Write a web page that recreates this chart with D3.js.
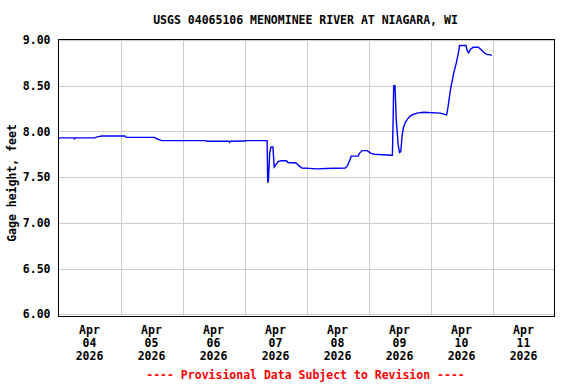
<!DOCTYPE html>
<html>
<head>
<meta charset="utf-8">
<script src="https://cdn.jsdelivr.net/npm/d3@7"></script>
<style>
  body { margin: 0; background: #fff; }
  svg text { font-family: "DejaVu Sans Mono", monospace; font-weight: bold; }
</style>
</head>
<body>
<div id="chart"></div>
<script>
// chart data
const title = "USGS 04065106 MENOMINEE RIVER AT NIAGARA, WI";
const yLabel = "Gage height, feet";
const footer = "---- Provisional Data Subject to Revision ----";

const yTicks = [6.0, 6.5, 7.0, 7.5, 8.0, 8.5, 9.0];
const dayTicks = ["2026-04-04", "2026-04-05", "2026-04-06", "2026-04-07",
                  "2026-04-08", "2026-04-09", "2026-04-10", "2026-04-11"];

const times = [
  "2026-04-04T00:00", "2026-04-04T00:30", "2026-04-04T06:00", "2026-04-04T06:15", "2026-04-04T06:30",
  "2026-04-04T14:00", "2026-04-04T15:00", "2026-04-04T16:45", "2026-04-05T01:45", "2026-04-05T02:15",
  "2026-04-05T13:15", "2026-04-05T14:00", "2026-04-05T16:00", "2026-04-06T08:45", "2026-04-06T09:30",
  "2026-04-06T18:00", "2026-04-06T18:15", "2026-04-06T18:30", "2026-04-07T00:15", "2026-04-07T00:30",
  "2026-04-07T08:45", "2026-04-07T09:00", "2026-04-07T09:15", "2026-04-07T09:45", "2026-04-07T10:15",
  "2026-04-07T11:00", "2026-04-07T11:30", "2026-04-07T12:15", "2026-04-07T13:00", "2026-04-07T14:15",
  "2026-04-07T16:15", "2026-04-07T16:45", "2026-04-07T20:00", "2026-04-07T21:15", "2026-04-07T22:15",
  "2026-04-08T04:00", "2026-04-08T07:30", "2026-04-08T15:00", "2026-04-08T15:45", "2026-04-08T17:00",
  "2026-04-08T17:15", "2026-04-08T20:00", "2026-04-08T20:30", "2026-04-08T21:30", "2026-04-08T23:30",
  "2026-04-09T01:00", "2026-04-09T02:15", "2026-04-09T09:00", "2026-04-09T09:15", "2026-04-09T09:30",
  "2026-04-09T09:45", "2026-04-09T10:15", "2026-04-09T10:45", "2026-04-09T11:30", "2026-04-09T12:00",
  "2026-04-09T12:30", "2026-04-09T13:00", "2026-04-09T13:30", "2026-04-09T14:15", "2026-04-09T15:30",
  "2026-04-09T16:45", "2026-04-09T18:45", "2026-04-09T21:15", "2026-04-10T03:45", "2026-04-10T06:15",
  "2026-04-10T06:45", "2026-04-10T07:45", "2026-04-10T09:00", "2026-04-10T10:00", "2026-04-10T11:00",
  "2026-04-10T11:15", "2026-04-10T13:45", "2026-04-10T14:15", "2026-04-10T14:45", "2026-04-10T15:30",
  "2026-04-10T16:30", "2026-04-10T18:30", "2026-04-10T19:45", "2026-04-10T20:45", "2026-04-10T22:00",
  "2026-04-10T23:00", "2026-04-10T23:45"
];
const levels = [
  7.92, 7.93, 7.93, 7.92, 7.93,
  7.93, 7.94, 7.95, 7.95, 7.935,
  7.935, 7.92, 7.90, 7.90, 7.893,
  7.893, 7.88, 7.893, 7.895, 7.90,
  7.90, 7.44, 7.46, 7.76, 7.83,
  7.83, 7.61, 7.64, 7.67, 7.68,
  7.68, 7.66, 7.655, 7.62, 7.60,
  7.59, 7.595, 7.60, 7.62, 7.70,
  7.73, 7.73, 7.76, 7.79, 7.79,
  7.76, 7.75, 7.74, 7.74, 8.08,
  8.50, 8.50, 8.12, 7.85, 7.77,
  7.78, 7.95, 8.04, 8.10, 8.15,
  8.18, 8.20, 8.21, 8.20, 8.18,
  8.26, 8.46, 8.64, 8.75, 8.89,
  8.94, 8.94, 8.88, 8.86, 8.90,
  8.92, 8.92, 8.89, 8.86, 8.84,
  8.84, 8.83
];

const W = 576, H = 384;
const plotL = 58.5, plotR = 554.5, plotT = 40, plotB = 314.3, frameB = 316;

const svg = d3.select("#chart").append("svg")
  .attr("width", W).attr("height", H)
  .attr("viewBox", `0 0 ${W} ${H}`);

const parseTime = d3.timeParse("%Y-%m-%dT%H:%M");
const parseDay = d3.timeParse("%Y-%m-%d");
const data = times.map((t, i) => ({ t: parseTime(t), v: levels[i] }));
const days = dayTicks.map(parseDay);

const x = d3.scaleTime()
  .domain([parseDay("2026-04-04"), parseDay("2026-04-12")])
  .range([plotL, plotR]);
const y = d3.scaleLinear().domain([6, 9]).range([plotB, plotT]);

// gridlines
svg.append("g").attr("class", "grid")
  .attr("transform", `translate(${plotL},0)`)
  .call(d3.axisLeft(y).tickValues(yTicks).tickSize(-(plotR - plotL)).tickFormat(""))
  .call(g => g.select(".domain").remove())
  .call(g => g.selectAll("line").attr("stroke", "#cccccc").attr("shape-rendering", "crispEdges"));

svg.append("g").attr("class", "grid")
  .attr("transform", `translate(0,${plotT})`)
  .call(d3.axisBottom(x).tickValues(days.slice(1)).tickSize(frameB - plotT).tickFormat(""))
  .call(g => g.select(".domain").remove())
  .call(g => g.selectAll("line").attr("stroke", "#cccccc").attr("shape-rendering", "crispEdges"));

// plot frame
svg.append("rect")
  .attr("x", plotL).attr("y", plotT - 0.5)
  .attr("width", plotR - plotL).attr("height", frameB - plotT + 0.5)
  .attr("fill", "none").attr("stroke", "#000").attr("stroke-width", 1)
  .attr("shape-rendering", "crispEdges");

// gage height line
const line = d3.line().x(d => x(d.t)).y(d => y(d.v));
svg.append("path").datum(data)
  .attr("d", line)
  .attr("fill", "none")
  .attr("stroke", "#0000ff")
  .attr("stroke-width", 1.4);

// y axis labels
svg.append("g")
  .attr("transform", `translate(${plotL},0)`)
  .call(d3.axisLeft(y).tickValues(yTicks).tickSize(0).tickPadding(8).tickFormat(d3.format(".2f")))
  .call(g => g.select(".domain").remove())
  .call(g => g.selectAll("text")
    .attr("font-family", "DejaVu Sans Mono, monospace")
    .attr("font-weight", "bold")
    .attr("font-size", "11.5px")
    .attr("fill", "#000"));

// x axis labels, three lines at noon of each day
const fmtMon = d3.timeFormat("%b"), fmtDay = d3.timeFormat("%d"), fmtYear = d3.timeFormat("%Y");
const noon = d => x(d3.timeHour.offset(d, 12));
const xLab = svg.append("g").selectAll("text").data(days).enter().append("text")
  .attr("text-anchor", "middle")
  .attr("font-size", "11.5px")
  .attr("fill", "#000");
xLab.append("tspan").attr("x", noon).attr("y", 334).text(fmtMon);
xLab.append("tspan").attr("x", noon).attr("y", 347).text(fmtDay);
xLab.append("tspan").attr("x", noon).attr("y", 360).text(fmtYear);

// title, axis label, footer
svg.append("text").attr("x", 305.5).attr("y", 24)
  .attr("text-anchor", "middle").attr("font-size", "11.5px").attr("fill", "#000")
  .text(title);

svg.append("text")
  .attr("transform", "translate(15.5,183) rotate(-90)")
  .attr("text-anchor", "middle").attr("font-size", "11.5px").attr("fill", "#000")
  .text(yLabel);

svg.append("text").attr("x", 305.5).attr("y", 379)
  .attr("text-anchor", "middle").attr("font-size", "11.5px").attr("fill", "#ff0000")
  .text(footer);
</script>
</body>
</html>
